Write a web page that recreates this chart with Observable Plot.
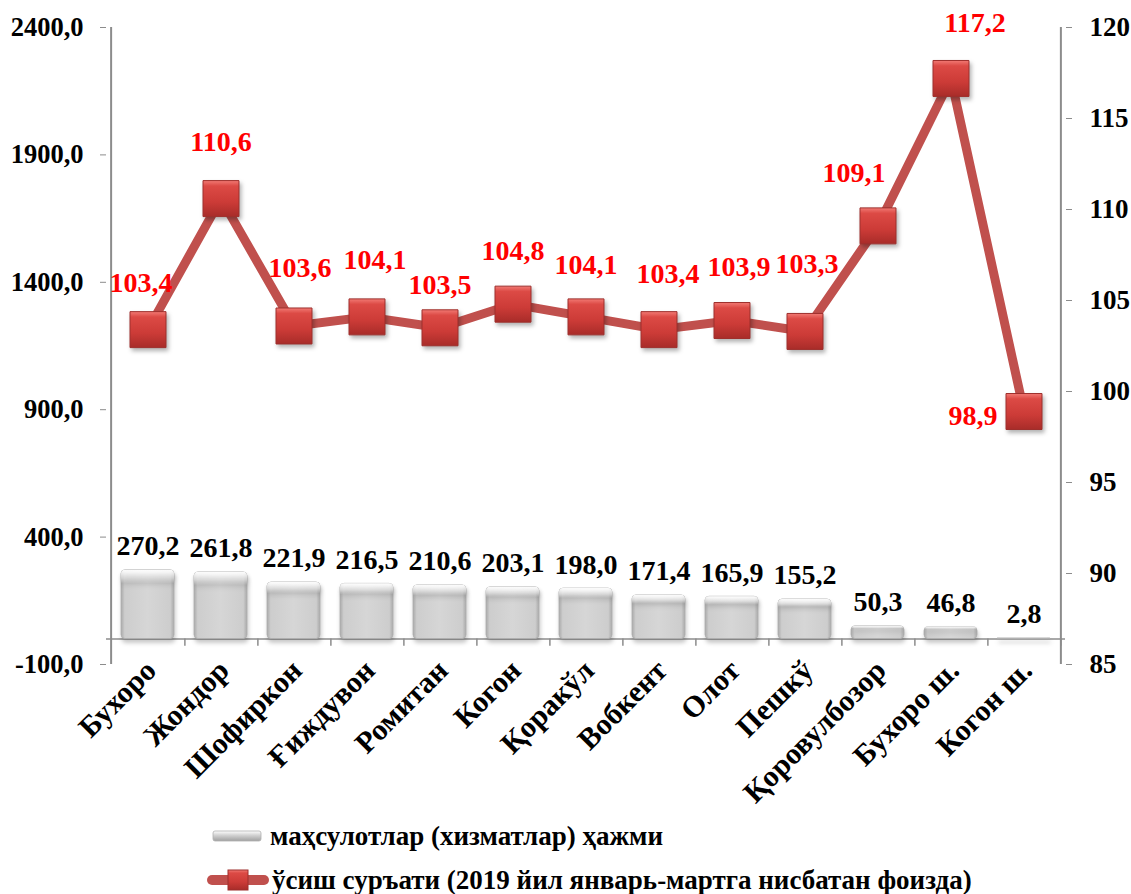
<!DOCTYPE html>
<html><head><meta charset="utf-8">
<script src="https://cdn.jsdelivr.net/npm/d3@7"></script>
<script src="https://cdn.jsdelivr.net/npm/@observablehq/plot@0.6"></script>
<style>
body{margin:0;background:#fff;font-family:'Liberation Serif','Times New Roman','DejaVu Serif',serif;}
#wrap{position:relative;width:1131px;height:894px;overflow:hidden;}
#chart svg, #chart svg text{font-family:'Liberation Serif','Times New Roman','DejaVu Serif',serif !important;}
#chart svg g[aria-label="bar"] rect{filter:drop-shadow(1px 4px 2px rgba(0,0,0,0.22));}
#chart svg g[aria-label="dot"] path{filter:drop-shadow(2px 3px 2px rgba(0,0,0,0.3));}
.lg{position:absolute;left:0;height:30px;display:flex;align-items:center;font-weight:bold;font-size:27px;color:#000;white-space:nowrap;}
</style></head><body>
<div id="wrap"><div id="chart"></div><div id="legend"></div></div>
<script>
const districts = ["Бухоро","Жондор","Шофиркон","Ғиждувон","Ромитан","Когон","Қоракўл","Вобкент","Олот","Пешкў","Қоровулбозор","Бухоро ш.","Когон ш."];
const volume = [270.2,261.8,221.9,216.5,210.6,203.1,198.0,171.4,165.9,155.2,50.3,46.8,2.8];
const growth = [103.4,110.6,103.6,104.1,103.5,104.8,104.1,103.4,103.9,103.3,109.1,117.2,98.9];
const leftTicks = [-100,400,900,1400,1900,2400];
const rightTicks = [85,90,95,100,105,110,115,120];
const seriesNames = ["маҳсулотлар (хизматлар) ҳажми","ўсиш суръати (2019 йил январь-мартга нисбатан фоизда)"];

const L0=-100, L1=2400, R0=85, R1=120;
const toLeft = v => L0 + (v-R0)*(L1-L0)/(R1-R0);
const toRight = v => R0 + (v-L0)*(R1-R0)/(L1-L0);
const fmt1 = v => v.toFixed(1).replace(".", ",");

const data = districts.map((d,i)=>({district:d, volume:volume[i], growth:growth[i], g:toLeft(growth[i]), i}));

const W=1131, H=812, mL=106, mR=66, mT=27, mB=H-664;
const step=(W-mL-mR)/districts.length;
const axisColor="#8c8c8c";
const lineColor="#c0504d";
const FF="'Liberation Serif','Times New Roman','DejaVu Serif',serif";

// label nudges (styling) per point
const nudge = [[-7,-47],[0,-57],[6,-58],[8,-57],[0,-43],[0,-53],[0,-52],[9,-56],[7,-53],[2,-67],[-24,-53],[24,-55],[-51,5]];
const growthLabels = data.map((d,k)=>Plot.text([d],{x:"district",y:"g",text:v=>fmt1(v.growth),dx:nudge[k][0],dy:nudge[k][1],fill:"#ff0000",fontSize:28,fontWeight:"bold",fontFamily:FF}));

const svg = Plot.plot({
  width:W, height:H, marginLeft:mL, marginRight:mR, marginTop:mT, marginBottom:mB,
  style:{fontFamily:FF, background:"white", overflow:"visible"},
  x:{type:"band", domain:districts, paddingInner:0.27, paddingOuter:0.135, axis:null},
  y:{domain:[L0,L1], axis:null},
  marks:[
    Plot.ruleY([0],{stroke:axisColor,strokeWidth:1.5}),
    Plot.ruleX(districts,{x:d=>d,y1:0,y2:-28,dx:step/2,stroke:axisColor,strokeWidth:1.5}),
    Plot.ruleX([districts[0]],{x:d=>d,y1:L0,y2:L1,dx:-step/2,stroke:axisColor,strokeWidth:2}),
    Plot.ruleX([districts[districts.length-1]],{x:d=>d,y1:L0,y2:L1,dx:step/2,stroke:axisColor,strokeWidth:2}),
    Plot.axisY(leftTicks,{anchor:"left",tickFormat:fmt1,tickSize:6,tickPadding:17,fontSize:26.5,fontWeight:"bold",fontFamily:FF,stroke:axisColor,fill:"black",label:null}),
    Plot.axisY(rightTicks.map(toLeft),{anchor:"right",tickFormat:d=>String(Math.round(toRight(d))),tickSize:6,tickPadding:18,fontSize:27,fontWeight:"bold",fontFamily:FF,stroke:axisColor,fill:"black",label:null}),
    Plot.barY(data,{x:"district",y:"volume",fill:"url(#barGrad)",stroke:"#b0b0b0",strokeWidth:0.8,rx:4}),
    Plot.barY(data,{x:"district",y:"volume",fill:"url(#barHi)",rx:4}),
    Plot.text(data,{x:"district",y:"volume",text:d=>fmt1(d.volume),dy:-24,fontSize:28,fontWeight:"bold",fontFamily:FF,fill:"black"}),
    Plot.line(data,{x:"district",y:"g",stroke:lineColor,strokeWidth:9,strokeLinejoin:"miter"}),
    Plot.dot(data,{x:"district",y:"g",symbol:"square",r:20.3,fill:"url(#mkGrad)",stroke:"#9e2f2c",strokeWidth:1}),
    ...growthLabels,
    Plot.text(data,{x:"district",y:L0,text:"district",rotate:-45,textAnchor:"end",dx:3,dy:1,fontSize:30,fontWeight:"bold",fontFamily:FF,fill:"black"})
  ]
});

const s = d3.select(svg);
const defs = s.insert("defs",":first-child");
const bg = defs.append("linearGradient").attr("id","barGrad").attr("x1","0").attr("x2","1").attr("y1","0").attr("y2","0");
[[0,"#a9a9a9"],[0.07,"#cdcdcd"],[0.5,"#d6d6d6"],[0.93,"#cdcdcd"],[1,"#a9a9a9"]].forEach(([o,c])=>bg.append("stop").attr("offset",o).attr("stop-color",c));
const bh = defs.append("linearGradient").attr("id","barHi").attr("x1","0").attr("x2","0").attr("y1","0").attr("y2","1");
[[0,"#ffffff",0.95],[0.12,"#ffffff",0.5],[0.2,"#ffffff",0],[1,"#ffffff",0]].forEach(([o,c,a])=>bh.append("stop").attr("offset",o).attr("stop-color",c).attr("stop-opacity",a));
const mg = defs.append("linearGradient").attr("id","mkGrad").attr("x1","0").attr("x2","0").attr("y1","0").attr("y2","1");
[[0,"#f27a74"],[0.15,"#dc4a45"],[0.6,"#cc3b37"],[1,"#a82c29"]].forEach(([o,c])=>mg.append("stop").attr("offset",o).attr("stop-color",c));
document.getElementById("chart").appendChild(svg);

// legend
const lg = document.getElementById("legend");
lg.innerHTML = `
<div class="lg" style="top:821px;left:212px">
  <svg width="52" height="14" style="margin-right:6px"><defs><linearGradient id="lgBar" x1="0" x2="0" y1="0" y2="1"><stop offset="0" stop-color="#ffffff"/><stop offset="0.4" stop-color="#d4d4d4"/><stop offset="1" stop-color="#a0a0a0"/></linearGradient></defs><rect x="1" y="2" width="48" height="10" rx="2" fill="url(#lgBar)" stroke="#b0b0b0" stroke-width="0.8"/></svg>
  <span>${seriesNames[0]}</span>
</div>
<div class="lg" style="top:865px;left:206px">
  <svg width="64" height="28" style="margin-right:2px"><line x1="6" y1="14" x2="58" y2="14" stroke="${lineColor}" stroke-width="10" stroke-linecap="round"/><rect x="22" y="4" width="20" height="20" fill="url(#mkGrad)" stroke="#9e2f2c"/></svg>
  <span>${seriesNames[1]}</span>
</div>`;
</script>
</body></html>
